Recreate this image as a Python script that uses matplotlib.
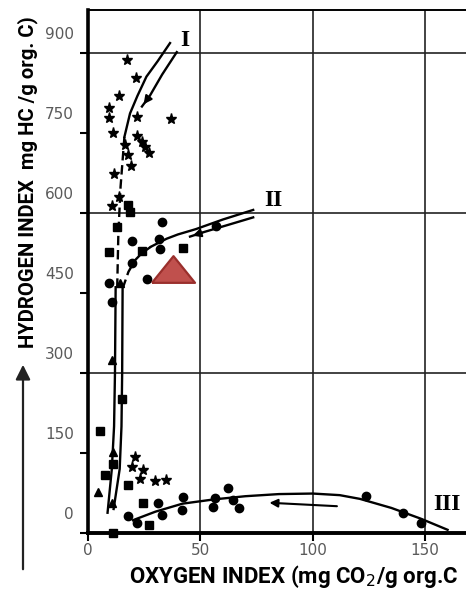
import matplotlib
matplotlib.use('Agg')
import matplotlib.pyplot as plt
from matplotlib.transforms import ScaledTranslation

# axis ticks
oi_ticks = [0, 50, 100, 150]
hi_ticks = [0, 150, 300, 450, 600, 750, 900]
hi_grid = [300, 600, 900]

# samples (oxygen index, hydrogen index)
star_oi = [17.4, 21.4, 13.9, 9.5, 9.5, 21.9, 36.9, 11.3, 21.9, 24.2, 16.5, 25.4,
           27.3, 17.9, 19.1, 11.7, 13.9, 10.5, 20.9, 19.4, 24.6, 23.1, 29.8, 34.7]
star_hi = [887, 853, 820, 798, 779, 781, 776, 751, 744, 734, 727, 724,
           712, 709, 689, 674, 631, 613, 142, 124, 119, 101, 98, 99]

dot_oi = [32.8, 19.4, 31.6, 32.0, 19.4, 57.0, 26.1, 9.5, 10.5, 42.4, 41.7, 56.5,
          55.8, 62.4, 64.7, 67.3, 32.8, 17.9, 21.7, 31.3, 123.7, 140.3, 148.0]
dot_hi = [584, 548, 552, 532, 506, 576, 476, 468, 434, 67, 43, 65,
          48, 84, 62, 46, 34, 32, 19, 56, 70, 38, 18]

sq_oi = [18.0, 18.7, 12.8, 23.9, 9.5, 42.4, 15.0, 5.3, 11.3, 7.6, 17.9, 24.3, 27.3, 11.3]
sq_hi = [615, 602, 574, 529, 527, 535, 251, 191, 129, 109, 90, 57, 15, 0]

tri_oi = [14.2, 10.5, 11.3, 4.6, 10.5]
tri_hi = [468, 324, 151, 76, 56]

sample_oi = [38.0]
sample_hi = [495]

# evolution paths
path1_oi = [36.5, 31, 26, 22, 18.7, 16.2]
path1_hi = [919, 885, 856, 820, 787, 743]
path1_dash_oi = [16.2, 14.5, 13.5, 13.0]
path1_dash_hi = [743, 650, 560, 461]
path1_arrow_oi = [39.5, 33, 27.5, 24]
path1_arrow_hi = [902, 860, 820, 800]

path2_oi = [73.5, 60, 48, 40, 35, 28]
path2_hi = [606, 588, 570, 560, 552, 537]
path2_dash_oi = [28, 24, 21, 18, 15.6]
path2_dash_hi = [537, 525, 512, 490, 461]
path2_arrow_oi = [73.5, 60, 52, 45.4]
path2_arrow_hi = [592, 575, 565, 556]

stem_left_oi = [12.3, 12.0, 11.6, 10.6, 8.7]
stem_left_hi = [461, 300, 200, 120, 38]
stem_right_oi = [15.4, 15.2, 14.9, 14.1, 11.4]
stem_right_hi = [461, 300, 200, 120, 45]

path3_oi = [20, 30, 42, 56, 70, 85, 100, 112, 121, 135, 148, 160]
path3_hi = [24, 40, 55, 63, 69, 73, 74, 71, 64, 47, 27, 6]
path3_arrow_oi = [112, 79.5]
path3_arrow_hi = [50, 57]

fig = plt.figure(figsize=(4.66, 5.92), dpi=100)
ax = fig.add_axes([88/466, 59/592, 378/466, 523/592])
ax.set_xlim(0, 168.2)
ax.set_ylim(0, 981)

# frame
ax.spines['right'].set_visible(False)
ax.spines['left'].set_linewidth(2.6)
ax.spines['bottom'].set_linewidth(2.8)
ax.spines['top'].set_linewidth(1.4)

ax.set_xticks(oi_ticks)
ax.set_xticklabels([str(t) for t in oi_ticks])
major_hi = [t for t in hi_ticks if t % 300 == 0]
minor_hi = [t for t in hi_ticks if t % 300 != 0]
ax.set_yticks(major_hi)
ax.set_yticklabels([str(t) for t in major_hi])
ax.set_yticks(minor_hi, minor=True)
ax.set_yticklabels([str(t) for t in minor_hi], minor=True)

for g in oi_ticks[1:]:
    ax.axvline(g, color='#222222', lw=1.2, zorder=1)
for g in hi_grid:
    ax.axhline(g, color='#222222', lw=1.2, zorder=1)

ax.tick_params(axis='both', which='both', direction='out', color='black',
               labelcolor='#5a5a5a', labelsize=11)
ax.tick_params(axis='y', which='both', length=6, width=1.5, pad=4)
ax.tick_params(axis='x', length=6, width=1.5, pad=1)
for lbl in ax.get_yticklabels() + ax.get_yticklabels(minor=True):
    lbl.set_transform(lbl.get_transform() + ScaledTranslation(0, 0.2, fig.dpi_scale_trans))

# curves
kw = dict(color='black', lw=1.7, zorder=3)
ax.plot(path1_oi, path1_hi, **kw)
ax.plot(path1_dash_oi, path1_dash_hi, ls=(0, (4, 2)), **kw)
ax.plot(path1_arrow_oi, path1_arrow_hi, **kw)
ax.annotate('', xy=(path1_arrow_oi[-1], path1_arrow_hi[-1]),
            xytext=(path1_arrow_oi[-2], path1_arrow_hi[-2]),
            arrowprops=dict(arrowstyle='-|>', color='black', lw=1.5, mutation_scale=12))
ax.plot(path2_oi, path2_hi, **kw)
ax.plot(path2_dash_oi, path2_dash_hi, ls=(0, (4, 2)), **kw)
ax.plot(path2_arrow_oi, path2_arrow_hi, **kw)
ax.annotate('', xy=(path2_arrow_oi[-1], path2_arrow_hi[-1]),
            xytext=(path2_arrow_oi[-2], path2_arrow_hi[-2]),
            arrowprops=dict(arrowstyle='-|>', color='black', lw=1.5, mutation_scale=12))
ax.plot(stem_left_oi, stem_left_hi, **kw)
ax.plot(stem_right_oi, stem_right_hi, **kw)
ax.plot(path3_oi, path3_hi, **kw)
ax.annotate('', xy=(path3_arrow_oi[-1], path3_arrow_hi[-1]),
            xytext=(path3_arrow_oi[0], path3_arrow_hi[0]),
            arrowprops=dict(arrowstyle='-|>', color='black', lw=1.5, mutation_scale=12))

# samples
ax.plot(star_oi, star_hi, '*', color='black', ms=8, zorder=4, clip_on=False)
ax.plot(dot_oi, dot_hi, 'o', color='black', ms=6, zorder=4, clip_on=False)
ax.plot(sq_oi, sq_hi, 's', color='black', ms=5.5, zorder=4, clip_on=False)
ax.plot(tri_oi, tri_hi, '^', color='black', ms=6, zorder=4, clip_on=False)
flat_tri = [(-1, -0.62), (1, -0.62), (0, 0.62), (-1, -0.62)]
ax.plot(sample_oi, sample_hi, marker=flat_tri, ls='none', ms=31,
        mfc='#c0504d', mec='#9a2f2c', mew=1.6, zorder=5)

serif = dict(family=['Liberation Serif', 'DejaVu Serif'], weight='bold', size=17,
             ha='center', va='center')
ax.text(43.2, 924, 'I', **serif)
ax.text(82.3, 624, 'II', **serif)
ax.text(159.8, 54, 'III', **serif)

cond = dict(family=['Liberation Sans Narrow', 'Roboto'], weight='bold')
fig.text(28/466, 1 - 182/592, 'HYDROGEN INDEX  mg HC /g org. C)', rotation=90,
         ha='center', va='center', size=14.6, **cond)
fig.text(294/466, 1 - 577/592, 'OXYGEN INDEX (mg CO$_2$/g org.C', ha='center',
         va='center', size=16, **cond)
ax.annotate('', xy=(23/466, 1 - 362/592), xytext=(23/466, 1 - 572/592),
            xycoords='figure fraction', textcoords='figure fraction',
            arrowprops=dict(arrowstyle='-|>', color='#222222', lw=1.6,
                            mutation_scale=22))

fig.savefig('out.png', dpi=100)
